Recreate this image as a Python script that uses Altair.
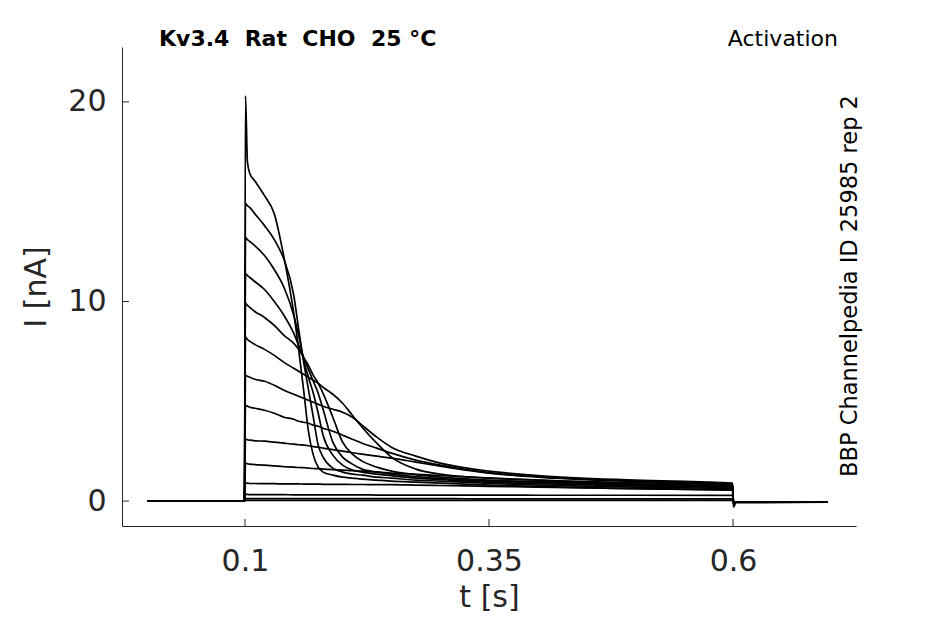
import altair as alt
import pandas as pd

# time grid (s)
TIME = [0.0, 0.0995, 0.1005, 0.1025, 0.105, 0.11, 0.12, 0.13, 0.14, 0.15, 0.155,
        0.16, 0.165, 0.17, 0.175, 0.18, 0.19, 0.2, 0.21, 0.22, 0.235, 0.25, 0.275,
        0.3, 0.35, 0.4, 0.5, 0.5995, 0.6005, 0.603, 0.697]

# current traces (nA), one per voltage step
s1 = [0.0, 0.0, 20.3, 17.0, 16.4, 16.05, 15.3, 14.4, 12.2, 9.4, 7.6, 5.6, 3.5, 2.3, 1.7, 1.45,
      1.3, 1.2, 1.15, 1.1, 1.05, 1.0, 0.95, 0.9, 0.8, 0.72, 0.62, 0.55, -0.3, -0.08, -0.06]
s2 = [0.0, 0.0, 14.9, 14.8, 14.7, 14.4, 13.8, 13.1, 12.1, 10.3, 8.6, 7.0, 5.6, 4.2, 2.8, 2.2,
      1.65, 1.45, 1.35, 1.3, 1.2, 1.15, 1.05, 1.0, 0.88, 0.8, 0.7, 0.62, -0.1, -0.06, -0.05]
s3 = [0.0, 0.0, 13.2, 13.1, 13.0, 12.8, 12.3, 11.6, 10.7, 9.3, 8.3, 7.1, 6.2, 5.4, 4.4, 3.3,
      2.3, 1.8, 1.55, 1.45, 1.35, 1.27, 1.15, 1.08, 0.95, 0.87, 0.76, 0.67, -0.1, -0.06, -0.05]
s4 = [0.0, 0.0, 11.4, 11.3, 11.2, 11.0, 10.6, 10.0, 9.3, 8.4, 7.8, 7.2, 6.6, 6.0, 5.4, 4.6,
      2.95, 2.2, 1.85, 1.6, 1.45, 1.35, 1.22, 1.12, 1.0, 0.92, 0.8, 0.7, -0.1, -0.06, -0.05]
s5 = [0.0, 0.0, 9.9, 9.8, 9.7, 9.5, 9.2, 8.8, 8.3, 7.9, 7.6, 7.2, 6.8, 6.3, 5.9, 5.4,
      4.2, 2.95, 2.35, 2.0, 1.7, 1.5, 1.32, 1.2, 1.05, 0.97, 0.85, 0.75, -0.1, -0.06, -0.05]
s6 = [0.0, 0.0, 8.2, 8.1, 8.0, 7.85, 7.6, 7.3, 6.95, 6.65, 6.5, 6.35, 6.2, 6.05, 5.9, 5.7,
      5.35, 4.9, 4.3, 3.7, 2.9, 2.2, 1.6, 1.35, 1.15, 1.05, 0.92, 0.8, -0.1, -0.06, -0.05]
s7 = [0.0, 0.0, 6.3, 6.25, 6.2, 6.1, 6.0, 5.8, 5.55, 5.35, 5.25, 5.15, 5.05, 4.95, 4.85, 4.75,
      4.6, 4.45, 4.2, 3.8, 3.2, 2.7, 2.25, 1.9, 1.5, 1.28, 1.05, 0.9, -0.1, -0.06, -0.05]
s8 = [0.0, 0.0, 4.8, 4.75, 4.7, 4.65, 4.55, 4.4, 4.2, 4.1, 4.0, 3.95, 3.9, 3.8, 3.75, 3.65,
      3.5, 3.3, 3.1, 2.9, 2.65, 2.4, 2.05, 1.8, 1.42, 1.22, 1.0, 0.85, -0.1, -0.06, -0.05]
s9 = [0.0, 0.0, 3.1, 3.07, 3.05, 3.02, 3.0, 2.95, 2.9, 2.85, 2.82, 2.8, 2.77, 2.73, 2.7, 2.65,
      2.58, 2.5, 2.42, 2.35, 2.25, 2.15, 1.95, 1.75, 1.4, 1.2, 0.98, 0.82, -0.1, -0.06, -0.05]
s10 = [0.0, 0.0, 1.9, 1.87, 1.85, 1.83, 1.8, 1.76, 1.72, 1.7, 1.68, 1.67, 1.65, 1.63, 1.62, 1.6,
       1.57, 1.55, 1.52, 1.5, 1.46, 1.4, 1.34, 1.28, 1.15, 1.05, 0.85, 0.7, -0.1, -0.06, -0.05]
s11 = [0.0, 0.0, 0.9, 0.9, 0.88, 0.88, 0.87, 0.87, 0.86, 0.86, 0.86, 0.85, 0.85, 0.85, 0.85, 0.84,
       0.84, 0.84, 0.83, 0.83, 0.82, 0.82, 0.8, 0.78, 0.74, 0.7, 0.62, 0.55, -0.1, -0.06, -0.05]
s12 = [0.0, 0.0, 0.33, 0.33, 0.32, 0.32, 0.32, 0.32, 0.32, 0.31, 0.31, 0.31, 0.31, 0.31, 0.31, 0.31,
       0.31, 0.31, 0.31, 0.31, 0.3, 0.3, 0.3, 0.3, 0.3, 0.29, 0.29, 0.28, -0.1, -0.06, -0.05]
s13 = [0.0, 0.0, 0.12, 0.12, 0.12, 0.12, 0.12, 0.12, 0.12, 0.12, 0.12, 0.12, 0.12, 0.12, 0.12, 0.12,
       0.12, 0.12, 0.12, 0.12, 0.12, 0.12, 0.12, 0.12, 0.11, 0.11, 0.11, 0.11, -0.1, -0.06, -0.05]
s14 = [0.0, 0.0, 0.03, 0.03, 0.03, 0.03, 0.03, 0.03, 0.03, 0.03, 0.03, 0.03, 0.03, 0.03, 0.03, 0.03,
       0.03, 0.03, 0.03, 0.03, 0.03, 0.03, 0.03, 0.03, 0.03, 0.03, 0.03, 0.03, -0.1, -0.06, -0.05]

TRACES = [s1, s2, s3, s4, s5, s6, s7, s8, s9, s10, s11, s12, s13, s14]

X_TICKS = [0.1, 0.35, 0.6]
Y_TICKS = [0, 10, 20]

TITLE_LEFT = "Kv3.4\u00a0\u00a0Rat\u00a0\u00a0CHO\u00a0\u00a025\u00a0°C"
TITLE_RIGHT = "Activation"
SIDE_NOTE = "BBP Channelpedia ID 25985 rep 2"

rows = []
for k, tr in enumerate(TRACES):
    for i, (t, v) in enumerate(zip(TIME, tr)):
        rows.append({"trace": k, "order": i, "t": t, "I": v})
df = pd.DataFrame(rows)

W, H = 734, 479
FONT = "DejaVu Sans"
AX = "#262626"

xscale = alt.Scale(domain=[-0.026, 0.726], nice=False, zero=False)
yscale = alt.Scale(domain=[-1.25, 22.75], nice=False, zero=False)
xaxis = alt.Axis(values=X_TICKS, format=".2~f", title="t [s]", ticks=False,
                 labelPadding=20, titlePadding=6)
yaxis = alt.Axis(values=Y_TICKS, format="d", title="I [nA]", ticks=False,
                 labelPadding=16, titlePadding=16)

lines = alt.Chart(df).mark_line(color="black", strokeWidth=1.7, interpolate="monotone").encode(
    x=alt.X("t:Q", scale=xscale, axis=xaxis),
    y=alt.Y("I:Q", scale=yscale, axis=yaxis),
    detail="trace:N",
    order="order:Q",
)

yticks = alt.Chart(pd.DataFrame({"I": Y_TICKS})).mark_rule(color=AX, strokeWidth=1).encode(
    y=alt.Y("I:Q", scale=yscale, axis=yaxis),
    x=alt.value(0), x2=alt.value(7),
)
xticks = alt.Chart(pd.DataFrame({"t": X_TICKS})).mark_rule(color=AX, strokeWidth=1).encode(
    x=alt.X("t:Q", scale=xscale, axis=xaxis),
    y=alt.value(H), y2=alt.value(H - 7),
)

txt_left = alt.Chart(pd.DataFrame({"s": [TITLE_LEFT]})).mark_text(
    font=FONT, fontSize=22, fontWeight="bold", align="left", baseline="alphabetic", color="black"
).encode(x=alt.value(37), y=alt.value(-1), text="s:N")

txt_right = alt.Chart(pd.DataFrame({"s": [TITLE_RIGHT]})).mark_text(
    font=FONT, fontSize=22, align="right", baseline="alphabetic", color="black"
).encode(x=alt.value(716), y=alt.value(-1), text="s:N")

txt_side = alt.Chart(pd.DataFrame({"s": [SIDE_NOTE]})).mark_text(
    font=FONT, fontSize=22.5, align="center", baseline="alphabetic", angle=270, color="black"
).encode(x=alt.value(735), y=alt.value(239), text="s:N")

chart = alt.layer(lines, yticks, xticks, txt_left, txt_right, txt_side).properties(
    width=W, height=H,
    autosize=alt.AutoSizeParams(type="none"),
    padding={"left": 114, "top": 39, "right": 70, "bottom": 90},
).configure_view(stroke=None).configure_axis(
    domainColor=AX, domainWidth=1, grid=False,
    labelFont=FONT, labelFontSize=30, labelColor=AX,
    titleFont=FONT, titleFontSize=30, titleFontWeight="normal", titleColor=AX,
)

chart.save("out.html", embed_options={"renderer": "svg", "actions": False})
